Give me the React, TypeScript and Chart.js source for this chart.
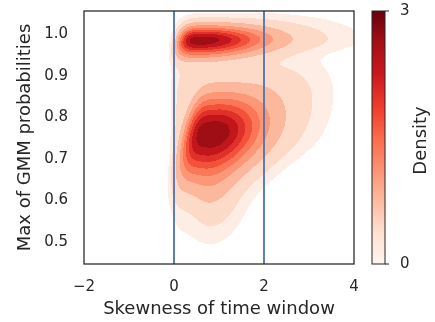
import React, { useEffect, useRef } from "react";
import { Chart, registerables } from "chart.js";

Chart.register(...registerables);

// ---- axes / ticks ----
const xTicks = [-2, 0, 2, 4];
const yTicks = [0.5, 0.6, 0.7, 0.8, 0.9, 1.0];
const xLimits = [-2, 4];
const yLimits = [0.447, 1.056];
const refLinesX = [0, 2];
const cbarTicks = [0, 3];
const xLabel = "Skewness of time window";
const yLabel = "Max of GMM probabilities";
const cbarLabel = "Density";

// ---- density components ----
// centre, left/right spread (with left-edge sharpness), down/up spread, shear, weight
const compX = [0.84, 1.6, 0.85, 0.62, 2.2, 0.15, 2.2];
const compY = [0.762, 0.76, 0.62, 0.9855, 0.99, 0.82, 0.86];
const compSxL = [0.478, 0.5, 0.3, 0.42, 0.8, 0.15, 0.7];
const compPxL = [4, 2, 2, 4, 2, 2, 2];
const compSxR = [0.65, 0.9, 0.38, 0.87, 1.2, 1.0, 0.75];
const compSyD = [0.068, 0.05, 0.062, 0.025, 0.022, 0.18, 0.07];
const compSyU = [0.057, 0.07, 0.05, 0.022, 0.035, 0.12, 0.06];
const compShear = [2.2, 4, 0, 2, 0, 0, 3];
const compW = [0.82, 0.09, 0.08, 0.84, 0.07, 0.06, 0.06];

// ---- contour levels and their fill colours ----
const levelThresholds = [0.02, 0.05, 0.13, 0.24, 0.35, 0.46, 0.57, 0.68, 0.8];
const bandColors = ["#feede5", "#fdd9c8", "#fcb89c", "#fc9878", "#fb7757", "#f4513b", "#e0302a", "#c2161c", "#a00e15"];
const redsStops = ["#fff5f0", "#fee0d2", "#fcbba1", "#fc9272", "#fb6a4a", "#ef3b2c", "#cb181d", "#a50f15", "#67000d"];

function density(x: number, y: number): number {
  let s = 0;
  for (let i = 0; i < compW.length; i++) {
    const dyv = y - compY[i];
    const xs = x - compX[i] - compShear[i] * dyv;
    const qx = xs < 0 ? Math.pow(-xs / compSxL[i], compPxL[i]) : Math.pow(xs / compSxR[i], 2);
    const dy = dyv < 0 ? dyv / compSyD[i] : dyv / compSyU[i];
    s += compW[i] * Math.exp(-0.5 * (qx + dy * dy));
  }
  return s;
}

function levelOf(d: number): number {
  let l = -1;
  for (let k = 0; k < levelThresholds.length; k++) if (d >= levelThresholds[k]) l = k;
  return l;
}

const FONT = "'DejaVu Sans', sans-serif";
const TEXT = "#262626";
const LABEL_SIZE = 18;
const TICK_SIZE = 15;

const kdePlugin = {
  id: "kdeFill",
  beforeDatasetsDraw(chart: any) {
    const { ctx, chartArea: a, scales } = chart;
    const xs = scales.x;
    const ys = scales.y;
    const x0 = Math.round(a.left);
    const x1 = Math.round(a.right);
    const y0 = Math.round(a.top);
    const y1 = Math.round(a.bottom);
    ctx.save();
    for (let py = y0; py < y1; py++) {
      const vy = ys.getValueForPixel(py + 0.5);
      let runStart = x0;
      let runLevel = -2;
      for (let px = x0; px <= x1; px++) {
        const lvl = px < x1 ? levelOf(density(xs.getValueForPixel(px + 0.5), vy)) : -3;
        if (lvl !== runLevel) {
          if (runLevel >= 0) {
            ctx.fillStyle = bandColors[runLevel];
            ctx.fillRect(runStart, py, px - runStart, 1);
          }
          runStart = px;
          runLevel = lvl;
        }
      }
    }
    ctx.restore();
  },
  afterDatasetsDraw(chart: any) {
    const { ctx, chartArea: a } = chart;
    ctx.save();
    ctx.strokeStyle = TEXT;
    ctx.lineWidth = 1.25;
    ctx.strokeRect(a.left, a.top, a.right - a.left, a.bottom - a.top);
    ctx.restore();
  },
  afterDraw(chart: any) {
    const { ctx, chartArea: a } = chart;
    const cb = chart.scales.cbar;
    const left = a.right + 18;
    const w = 13;
    const top = cb.getPixelForValue(cbarTicks[cbarTicks.length - 1]);
    const bottom = cb.getPixelForValue(cbarTicks[0]);
    ctx.save();
    const g = ctx.createLinearGradient(0, bottom, 0, top);
    redsStops.forEach((c, i) => g.addColorStop(i / (redsStops.length - 1), c));
    ctx.fillStyle = g;
    ctx.fillRect(left, top, w, bottom - top);
    ctx.strokeStyle = TEXT;
    ctx.lineWidth = 1;
    ctx.strokeRect(left, top, w, bottom - top);
    cbarTicks.forEach((v) => {
      const py = cb.getPixelForValue(v);
      ctx.beginPath();
      ctx.moveTo(left + w, py);
      ctx.lineTo(left + w + 4, py);
      ctx.stroke();
    });
    ctx.fillStyle = TEXT;
    ctx.font = `${LABEL_SIZE}px ${FONT}`;
    ctx.textAlign = "center";
    ctx.textBaseline = "middle";
    ctx.translate(421, (top + bottom) / 2 + 3);
    ctx.rotate(-Math.PI / 2);
    ctx.fillText(cbarLabel, 0, 0);
    ctx.restore();
  },
};

export default function App() {
  const ref = useRef<HTMLCanvasElement>(null);
  useEffect(() => {
    if (!ref.current) return;
    const lineSets = refLinesX.map((v) => ({
      type: "scatter" as const,
      data: [
        { x: v, y: yLimits[0] - 0.1 },
        { x: v, y: yLimits[1] + 0.1 },
      ],
      showLine: true,
      borderColor: "#4c72b0",
      borderWidth: 1.8,
      pointRadius: 0,
      xAxisID: "x",
      yAxisID: "y",
    }));
    const chart = new Chart(ref.current, {
      type: "scatter",
      data: { datasets: lineSets as any },
      options: {
        responsive: false,
        animation: false,
        events: [],
        layout: { padding: { top: 11, left: 0, right: 0, bottom: 0 } },
        plugins: { legend: { display: false }, tooltip: { enabled: false } },
        scales: {
          x: {
            type: "linear",
            position: "bottom",
            min: xLimits[0],
            max: xLimits[1],
            afterBuildTicks: (s: any) => {
              s.ticks = xTicks.map((v) => ({ value: v }));
            },
            afterFit: (s: any) => {
              s.height = 58;
            },
            grid: { display: false, drawTicks: true, tickLength: 14 },
            border: { display: false },
            ticks: {
              padding: 0,
              color: TEXT,
              font: { family: FONT, size: TICK_SIZE },
              callback: (v: any) => (Number(v) < 0 ? "\u2212" + Math.abs(Number(v)) : String(v)),
            },
            title: {
              display: true,
              text: xLabel,
              color: TEXT,
              font: { family: FONT, size: LABEL_SIZE },
              padding: { top: 0, bottom: 1.5 },
            },
          },
          y: {
            type: "linear",
            position: "left",
            min: yLimits[0],
            max: yLimits[1],
            afterBuildTicks: (s: any) => {
              s.ticks = yTicks.map((v) => ({ value: v }));
            },
            afterFit: (s: any) => {
              s.width = 84;
            },
            grid: { display: false, drawTicks: true, tickLength: 16 },
            border: { display: false },
            ticks: {
              padding: 0,
              color: TEXT,
              font: { family: FONT, size: TICK_SIZE },
              callback: (v: any) => Number(v).toFixed(1),
            },
            title: {
              display: true,
              text: yLabel,
              color: TEXT,
              font: { family: FONT, size: LABEL_SIZE },
              padding: { top: 15, bottom: 0 },
            },
          },
          cbar: {
            type: "linear",
            position: "right",
            min: cbarTicks[0],
            max: cbarTicks[cbarTicks.length - 1],
            afterBuildTicks: (s: any) => {
              s.ticks = cbarTicks.map((v) => ({ value: v }));
            },
            afterFit: (s: any) => {
              s.width = 81;
            },
            grid: { display: false, drawTicks: true, tickLength: 46 },
            border: { display: false },
            ticks: {
              padding: 0,
              color: TEXT,
              font: { family: FONT, size: TICK_SIZE },
            },
          },
        },
      },
      plugins: [kdePlugin],
    });
    return () => chart.destroy();
  }, []);
  return (
    <div style={{ position: "fixed", left: 0, top: 0, width: 435, height: 322, background: "#fff" }}>
      <canvas ref={ref} width={435} height={322} style={{ display: "block" }} />
    </div>
  );
}
